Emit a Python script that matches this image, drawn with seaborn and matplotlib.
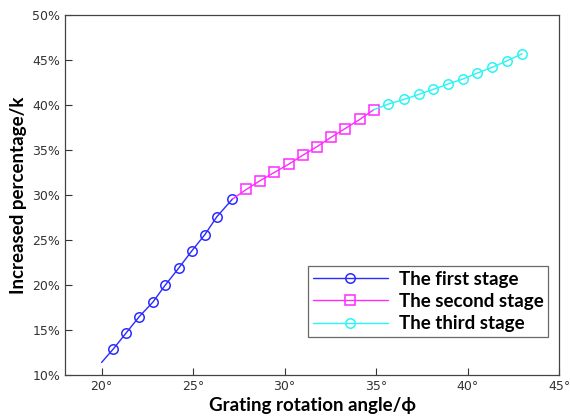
import matplotlib
matplotlib.use("Agg")
import matplotlib.pyplot as plt
import seaborn as sns
import pandas as pd
from matplotlib.ticker import FuncFormatter

# Data
stage1_x = [20.00, 20.64, 21.35, 22.06, 22.80, 23.48, 24.22, 24.93, 25.64, 26.30, 27.15]
stage1_y = [11.40, 12.90, 14.70, 16.50, 18.10, 20.00, 21.90, 23.80, 25.60, 27.60, 29.56]
stage2_x = [27.15, 27.91, 28.65, 29.44, 30.23, 31.00, 31.76, 32.53, 33.29, 34.11, 34.86]
stage2_y = [29.56, 30.63, 31.59, 32.52, 33.44, 34.44, 35.37, 36.41, 37.37, 38.41, 39.48]
stage3_x = [34.86, 35.66, 36.51, 37.33, 38.11, 38.91, 39.73, 40.53, 41.33, 42.15, 42.97]
stage3_y = [39.48, 40.11, 40.63, 41.19, 41.74, 42.33, 42.89, 43.56, 44.19, 44.92, 45.70]
stage_labels = ["The first stage", "The second stage", "The third stage"]
x_ticks = [20, 25, 30, 35, 40, 45]
y_ticks = [10, 15, 20, 25, 30, 35, 40, 45, 50]

sns.set_style("white")
plt.rcParams['font.family'] = ['DejaVu Sans']

fig = plt.figure(figsize=(5.7, 4.2), dpi=100)
ax = fig.add_axes([0.114, 0.107, 0.867, 0.857])

colors = ["#2b2bff", "#ff2bff", "#2bf5f5"]
markers = ["o", "s", "o"]
msizes = [6.8, 6.5, 6.8]
for xs, ys, lab, c, m, ms in zip([stage1_x, stage2_x, stage3_x],
                                 [stage1_y, stage2_y, stage3_y],
                                 stage_labels, colors, markers, msizes):
    df = pd.DataFrame({"angle": xs, "pct": ys})
    sns.lineplot(data=df, x="angle", y="pct", ax=ax, sort=False, color=c,
                 marker=m, markersize=ms, markerfacecolor="none",
                 markeredgecolor=c, markeredgewidth=1.1, linewidth=1.0,
                 markevery=slice(1, None), label=lab)

ax.set_xlim(18, 45)
ax.set_ylim(10, 50)
ax.set_xticks(x_ticks)
ax.set_yticks(y_ticks)
ax.xaxis.set_major_formatter(FuncFormatter(lambda v, p: f"{int(v)}°"))
ax.yaxis.set_major_formatter(FuncFormatter(lambda v, p: f"{int(v)}%"))
ax.tick_params(direction="in", length=5, width=0.8, color="#333333",
               labelsize=9, labelcolor="#333333", top=False, right=False,
               bottom=True, left=True)
for s in ax.spines.values():
    s.set_color("#444444")
    s.set_linewidth(0.9)

ax.set_xlabel("Grating rotation angle/ϕ", fontsize=13.5, fontweight="bold",
              family=["Lato", "DejaVu Sans"], labelpad=3, color="black")
ax.set_ylabel("Increased percentage/k", fontsize=13.5, fontweight="bold",
              family=["Lato", "DejaVu Sans"], labelpad=4, color="black")

leg = ax.legend(loc="lower right", bbox_to_anchor=(0.978, 0.106),
                borderaxespad=0,
                prop={"family": "Lato", "weight": "bold", "size": 13.5},
                frameon=True, fancybox=False, handlelength=4.0,
                borderpad=0.25, labelspacing=0.28, handletextpad=0.6,
                numpoints=1, labelcolor="black")
leg.get_frame().set_edgecolor("#444444")
leg.get_frame().set_linewidth(0.9)

fig.savefig("out.png", dpi=100)
